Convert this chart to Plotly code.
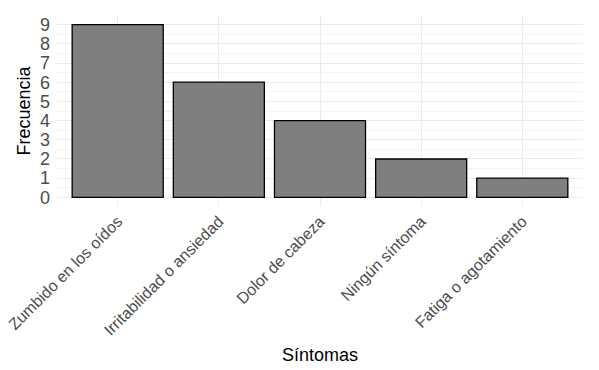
import plotly.graph_objects as go

categorias = ["Zumbido en los oídos", "Irritabilidad o ansiedad", "Dolor de cabeza",
              "Ningún síntoma", "Fatiga o agotamiento"]
frecuencias = [9, 6, 4, 2, 1]
y_ticks = list(range(0, 10))

fig = go.Figure(go.Bar(
    x=categorias, y=frecuencias, width=0.9,
    marker=dict(color="#7f7f7f", line=dict(color="black", width=1.3)),
))

# page body has an 8px default margin, so margins are offset by 8px
fig.update_layout(
    width=599, height=370,
    margin=dict(l=49, r=24, t=8, b=172, autoexpand=False),
    plot_bgcolor="white", paper_bgcolor="white",
    font=dict(family="Liberation Sans, Arial, sans-serif", color="#4d4d4d"),
    showlegend=False,
    bargap=0.1,
)
fig.update_xaxes(
    range=[-0.6, 4.6], tickangle=-45, tickfont=dict(size=16, color="#4d4d4d"),
    showgrid=True, gridcolor="#ebebeb", gridwidth=1, zeroline=False, showline=False,
    ticks="", automargin=False, ticklabelstandoff=2,
    title=dict(text="Síntomas", font=dict(size=18, color="black"), standoff=10),
)
fig.update_yaxes(
    range=[-0.45, 9.45], tickvals=y_ticks, ticktext=[str(v) for v in y_ticks],
    tickfont=dict(size=18, color="#4d4d4d"),
    showgrid=True, gridcolor="#ebebeb", gridwidth=1, zeroline=False, showline=False,
    minor=dict(dtick=0.5, tick0=0.5, showgrid=True, gridcolor="#f4f4f4", gridwidth=1),
    ticks="", automargin=False, ticklabelstandoff=6,
    title=dict(text="Frecuencia", font=dict(size=18, color="black"), standoff=4),
)

fig.write_html("out.html")
